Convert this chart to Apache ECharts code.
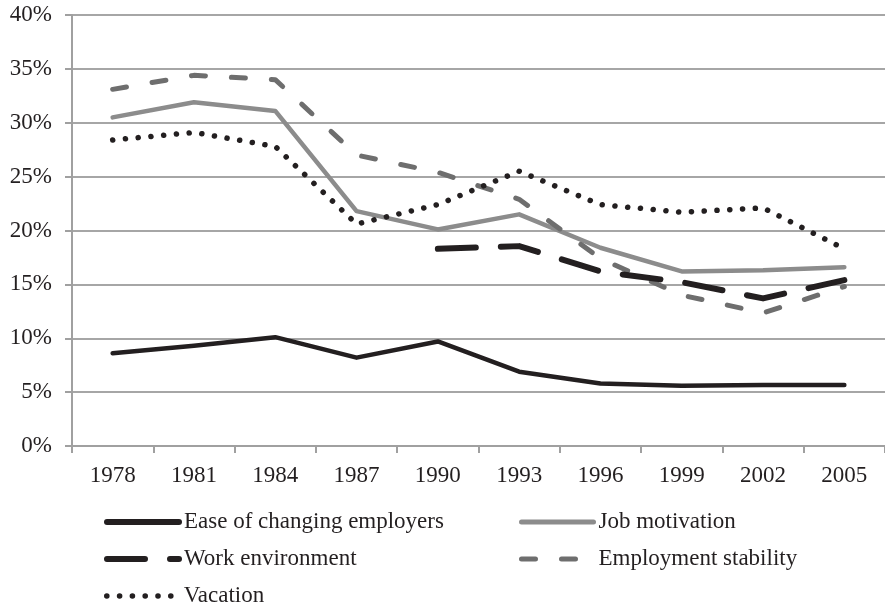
<!DOCTYPE html>
<html>
<head>
<meta charset="utf-8">
<script src="https://cdn.jsdelivr.net/npm/echarts@6/dist/echarts.min.js"></script>
<style>
  html, body { margin: 0; padding: 0; background: #fff; }
  #chart { width: 885px; height: 605px; }
</style>
</head>
<body>
<div id="chart"></div>
<script>
const years = ["1978", "1981", "1984", "1987", "1990", "1993", "1996", "1999", "2002", "2005"];

const easeOfChanging = [8.6, 9.3, 10.1, 8.2, 9.7, 6.9, 5.8, 5.6, 5.65, 5.65];
const jobMotivation = [30.5, 31.9, 31.1, 21.8, 20.1, 21.5, 18.4, 16.2, 16.3, 16.6];
const workEnvironment = [null, null, null, null, 18.3, 18.55, 16.2, 15.2, 13.7, 15.4];
const employmentStability = [33.1, 34.4, 34.0, 27.0, 25.4, 22.9, 17.4, 14.0, 12.35, 14.8];
const vacation = [28.4, 29.1, 27.8, 20.6, 22.4, 25.5, 22.4, 21.7, 22.1, 18.3];

const ink = "#231f20";
const font = "'Liberation Serif', 'Times New Roman', serif";

const chart = echarts.init(document.getElementById("chart"), undefined, { renderer: "canvas" });

const line = (name, data, color, width, type, z) => ({
  name,
  type: "line",
  data,
  z,
  showSymbol: false,
  symbol: "none",
  connectNulls: false,
  lineStyle: { color, width, type, cap: "round", join: "round" },
  itemStyle: { color }
});

// one legend per entry so the two-column layout matches the figure
const legendAt = (name, left, top, width) => ({
  data: [name],
  left,
  top,
  padding: 0,
  itemWidth: 72,
  itemHeight: 14,
  itemGap: 0,
  itemStyle: { opacity: 0 },
  lineStyle: { width, cap: "round" },
  textStyle: { color: ink, fontSize: 23, fontFamily: font, lineHeight: 24 }
});

chart.setOption({
  animation: false,
  backgroundColor: "#fff",
  textStyle: { fontFamily: font },
  grid: { left: 72, top: 15, width: 817, height: 431, containLabel: false },
  xAxis: {
    type: "category",
    data: years,
    boundaryGap: true,
    axisLine: { lineStyle: { color: "#a0a0a0", width: 2 } },
    axisTick: { show: true, length: 7, lineStyle: { color: "#a0a0a0", width: 2 } },
    axisLabel: { color: ink, fontSize: 23, fontFamily: font, margin: 18 },
    splitLine: { show: false }
  },
  yAxis: {
    type: "value",
    min: 0,
    max: 40,
    interval: 5,
    axisLine: { show: true, lineStyle: { color: "#a0a0a0", width: 2 } },
    axisTick: { show: true, length: 7, lineStyle: { color: "#a0a0a0", width: 2 } },
    axisLabel: { color: ink, fontSize: 23, fontFamily: font, margin: 20, formatter: "{value}%" },
    splitLine: { lineStyle: { color: "#a6a6a6", width: 2 } }
  },
  legend: [
    legendAt("Ease of changing employers", 104, 510, 6),
    legendAt("Work environment", 104, 547, 6),
    legendAt("Vacation", 104, 584, 5.5),
    legendAt("Job motivation", 519, 510, 5),
    legendAt("Employment stability", 519, 547, 5)
  ],
  series: [
    line("Ease of changing employers", easeOfChanging, ink, 4.5, "solid", 3),
    line("Job motivation", jobMotivation, "#8c8c8c", 4.5, "solid", 2),
    line("Work environment", workEnvironment, ink, 6, [38, 25], 4),
    line("Employment stability", employmentStability, "#6e6e6e", 5, [14, 26], 2),
    line("Vacation", vacation, ink, 5.5, [0.1, 12.7], 5)
  ]
});
</script>
</body>
</html>
